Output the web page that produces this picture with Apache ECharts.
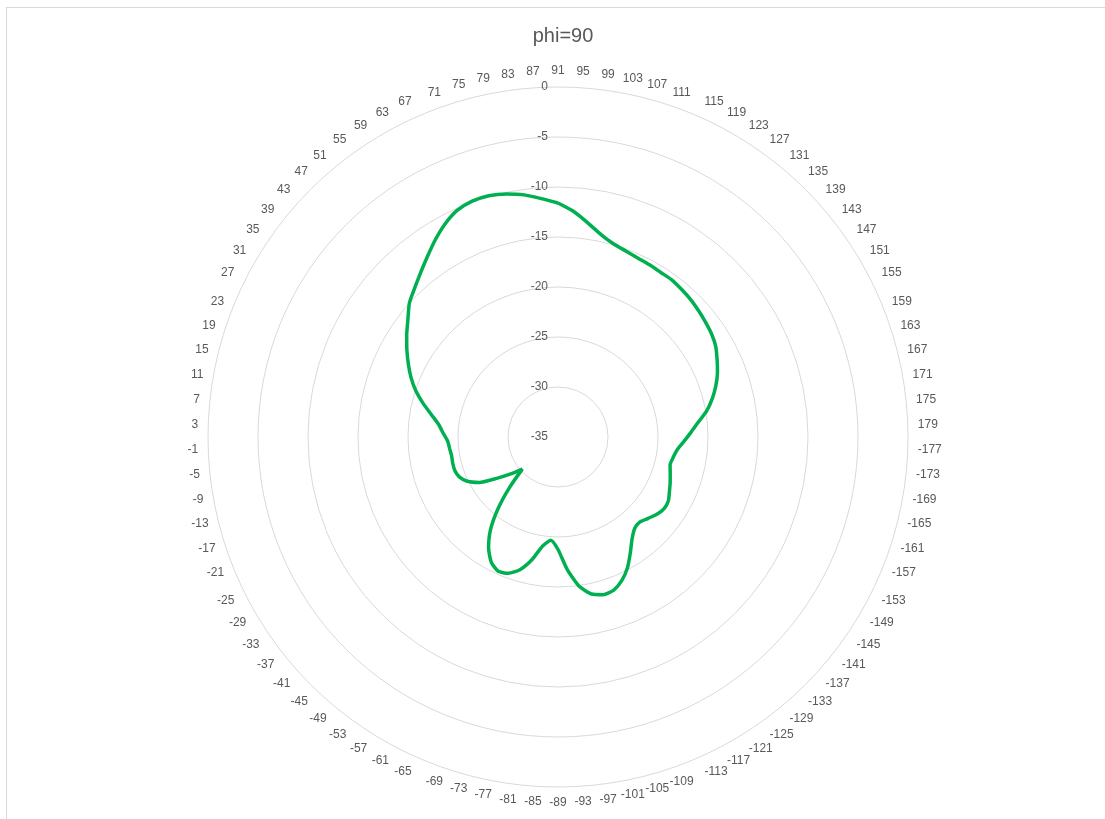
<!DOCTYPE html>
<html>
<head>
<meta charset="utf-8">
<script src="https://cdn.jsdelivr.net/npm/echarts@6/dist/echarts.min.js"></script>
<style>
  html, body { margin: 0; padding: 0; background: #fff; overflow: hidden; }
  #frame { position: absolute; left: 6px; top: 7px; width: 1110px; height: 830px; border: 1px solid #d9d9d9; box-sizing: border-box; }
  #chart { position: absolute; left: 0; top: 0; width: 1105px; height: 819px; }
</style>
</head>
<body>
<div id="frame"></div>
<div id="chart"></div>
<script>
// theta labels, one every 4 deg, clockwise from the top
const categories = [
  91, 95, 99, 103, 107, 111, 115, 119, 123, 127, 131, 135, 139, 143, 147, 151, 155, 159, 163, 167, 171, 175, 179,
  -177, -173, -169, -165, -161, -157, -153, -149, -145, -141, -137, -133, -129, -125, -121, -117, -113, -109, -105,
  -101, -97, -93, -89, -85, -81, -77, -73, -69, -65, -61, -57, -53, -49, -45, -41, -37, -33, -29, -25, -21, -17, -13,
  -9, -5, -1, 3, 7, 11, 15, 19, 23, 27, 31, 35, 39, 43, 47, 51, 55, 59, 63, 67, 71, 75, 79, 83, 87
];

// gain (dB) for each label above
const gain = [
  -11.6, -12.4, -13.4, -14.3, -14.9, -15.2, -15.4, -15.5, -15.6, -15.6,
  -15.75, -15.9, -16.1, -16.3, -16.5, -16.8, -17.3, -17.8, -18.4, -19.1,
  -19.9, -20.9, -21.7, -22.4, -23.0, -23.3, -23.45, -23.2, -22.9, -22.6,
  -22.25, -22.2, -22.45, -22.85, -23.2, -23.07, -22.4, -21.35, -20.2, -19.3,
  -18.7, -18.6, -18.95, -19.95, -21.7, -23.75, -24.65, -24.0, -22.45, -21.2,
  -20.5, -20.3, -20.8, -21.9, -23.5, -25.7, -28.1, -30.2, -29.0, -27.6,
  -25.9, -24.9, -24.35, -24.15, -24.15, -24.2, -24.1, -23.95, -23.5, -23.0,
  -22.15, -21.1, -20.05, -19.15, -18.35, -17.55, -16.75, -15.95, -15.0, -14.35,
  -13.6, -12.75, -11.8, -10.9, -10.2, -9.9, -9.9, -10.15, -10.55, -11.1
];

const radiusTicks = [-35, -30, -25, -20, -15, -10, -5, 0];
const step = 360 / categories.length;

const points = gain.map((v, i) => [v, i * step]);
points.push([gain[0], 360]); // close the loop

// excel anchors labels by 45deg sectors, echarts by a 0.3 ratio - patch the odd ones
function labelText(v) {
  if (v >= 360) return '';
  const i = Math.round(v / step);
  const a = i * step * Math.PI / 180;
  const s = Math.abs(Math.sin(a)), c = Math.abs(Math.cos(a));
  const t = String(categories[i]);
  if (c >= 0.3 && c < 0.383) return '{m|' + t + '}';
  if (s >= 0.3 && s < 0.383) return '{c|' + t + '}';
  return t;
}

const chart = echarts.init(document.getElementById('chart'));
chart.setOption({
  animation: false,
  title: {
    text: 'phi=90',
    left: 558,
    top: 21,
    textAlign: 'center',
    textStyle: { color: '#595959', fontSize: 20, fontWeight: 'normal', fontFamily: 'Liberation Sans' }
  },
  polar: { center: [558, 437], radius: 350 },
  angleAxis: {
    type: 'value',
    min: 0,
    max: 360,
    interval: step,
    startAngle: 90,
    clockwise: true,
    axisLine: { show: false },
    axisTick: { show: false },
    splitLine: { show: false },
    axisLabel: {
      margin: 10,
      color: '#595959',
      fontSize: 12,
      fontFamily: 'Liberation Sans',
      formatter: labelText,
      rich: {
        m: { lineHeight: 1, fontSize: 12, color: '#595959', fontFamily: 'Liberation Sans' },
        c: { width: 1, align: 'center', fontSize: 12, color: '#595959', fontFamily: 'Liberation Sans' }
      }
    }
  },
  radiusAxis: {
    type: 'value',
    min: radiusTicks[0],
    max: radiusTicks[radiusTicks.length - 1],
    interval: 5,
    axisLine: { show: false },
    axisTick: { show: false },
    splitLine: { show: true, lineStyle: { color: '#d9d9d9', width: 1 } },
    axisLabel: {
      margin: 10,
      color: '#595959',
      fontSize: 12,
      fontFamily: 'Liberation Sans'
    }
  },
  series: [{
    type: 'line',
    coordinateSystem: 'polar',
    data: points,
    showSymbol: false,
    smooth: 0.2,
    lineStyle: { color: '#00b050', width: 3.5 }
  }]
});
</script>
</body>
</html>
